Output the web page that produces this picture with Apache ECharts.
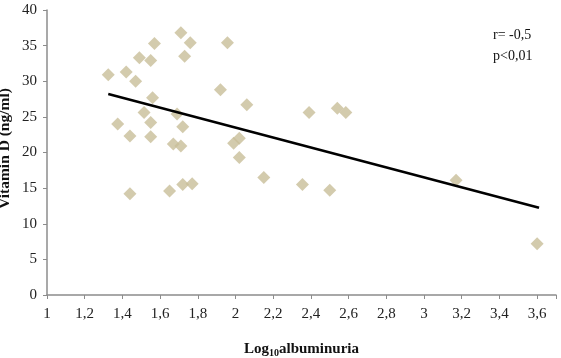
<!DOCTYPE html>
<html>
<head>
<meta charset="utf-8">
<script src="https://cdn.jsdelivr.net/npm/echarts@6/dist/echarts.min.js"></script>
<style>html,body{margin:0;padding:0;background:#fff;}#c{width:561px;height:358px;}</style>
</head>
<body>
<div id="c"></div>
<script>
var xValues = [1.325,1.42,1.47,1.49,1.55,1.57,1.56,1.515,1.55,1.375,1.44,1.55,1.71,1.76,1.73,1.69,1.72,1.67,1.71,1.92,1.957,2.06,1.99,2.02,2.02,2.15,1.44,1.65,1.72,1.77,2.39,2.54,2.585,3.17,2.355,2.50,3.60];
var yValues = [30.9,31.3,30.0,33.3,32.9,35.3,27.7,25.6,24.2,24.0,22.3,22.2,36.8,35.4,33.5,25.4,23.6,21.2,20.9,28.8,35.4,26.7,21.3,22.0,19.3,16.5,14.2,14.6,15.5,15.6,25.6,26.2,25.6,16.1,15.5,14.7,7.2];
var trendX = [1.325, 3.61];
var trendY = [28.2, 12.25];
var annotation = ['r= -0,5', 'p<0,01'];

var pts = xValues.map(function(x, i){ return [x, yValues[i]]; });
var trend = trendX.map(function(x, i){ return [x, trendY[i]]; });

var serif = '"Liberation Serif", "Times New Roman", serif';
var chart = echarts.init(document.getElementById('c'));
chart.setOption({
  animation: false,
  backgroundColor: '#fff',
  grid: {left: 47, right: 5, top: 10, bottom: 63, containLabel: false, outerBoundsMode: 'none'},
  xAxis: {
    type: 'value', min: 1, max: 3.7, interval: 0.2,
    axisLine: {show: true, lineStyle: {color: '#8c8c8c', width: 1.5}},
    axisTick: {show: true, length: 4, lineStyle: {color: '#8c8c8c'}},
    splitLine: {show: false},
    axisLabel: {
      fontFamily: serif, fontSize: 15, color: '#222', margin: 12,
      formatter: function(v){
        var r = Math.round(v*10)/10;
        if (r > 3.65) return '';
        return String(r).replace('.', ',');
      }
    },
    name: '{b|Log}{s|10}{b|albuminuria}',
    nameLocation: 'middle', nameGap: 45,
    nameTextStyle: {
      rich: {
        b: {fontFamily: serif, fontSize: 15, fontWeight: 'bold', color: '#111'},
        s: {fontFamily: serif, fontSize: 10, fontWeight: 'bold', color: '#111', verticalAlign: 'bottom', padding: [8,0,0,0]}
      }
    }
  },
  yAxis: {
    type: 'value', min: 0, max: 40, interval: 5,
    axisLine: {show: true, lineStyle: {color: '#8c8c8c', width: 1.5}},
    axisTick: {show: true, length: 4, lineStyle: {color: '#8c8c8c'}},
    splitLine: {show: false},
    axisLabel: {fontFamily: serif, fontSize: 15, color: '#222', margin: 10},
    name: 'Vitamin D (ng/ml)',
    nameLocation: 'middle', nameGap: 34, nameRotate: 90, nameMoveOverlap: false,
    nameTextStyle: {fontFamily: serif, fontSize: 15.5, fontWeight: 'bold', color: '#111', padding: [0,0,0,8]}
  },
  series: [
    {
      type: 'scatter', data: pts, symbol: 'diamond', symbolSize: 13,
      itemStyle: {color: '#c8be98'}, z: 2
    },
    {
      type: 'line', data: trend, showSymbol: false, symbol: 'none',
      lineStyle: {color: '#000', width: 2.5}, z: 3
    }
  ],
  graphic: [
    {type: 'text', left: 493, top: 28, style: {text: annotation[0], font: '14px ' + serif, fill: '#111'}},
    {type: 'text', left: 493, top: 49, style: {text: annotation[1], font: '14px ' + serif, fill: '#111'}}
  ]
});
</script>
</body>
</html>
